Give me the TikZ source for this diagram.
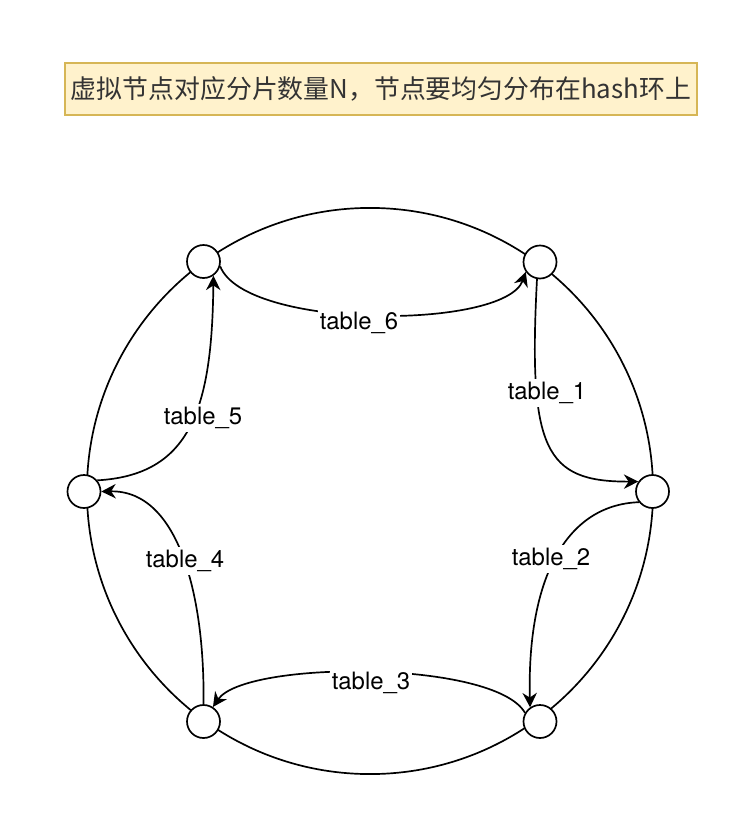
\documentclass[tikz,border=0pt]{standalone}
\usepackage{fontspec}
\setmainfont{TeX Gyre Heros}
\newfontfamily\cjkfont{Noto Sans CJK SC}
\usetikzlibrary{arrows.meta}
\definecolor{notefill}{HTML}{FFF2CC}
\definecolor{notedraw}{HTML}{D6B656}
\definecolor{notetext}{HTML}{333333}

\begin{document}
\begin{tikzpicture}[x=0.025cm,y=-0.025cm,>={Stealth[length=3.6mm,width=3.6mm]},line width=1.2pt,
  vnode/.style={circle,draw,fill=white,minimum size=0.825cm,inner sep=0pt},
  lbl/.style={fill=white,inner xsep=1pt,inner ysep=2pt,font=\fontsize{17}{20}\selectfont},
  titlebox/.style={draw=notedraw,fill=notefill,minimum width=15.8cm,minimum height=1.3cm,
    text=notetext,font=\cjkfont\fontsize{18.4}{22}\selectfont}]
\useasboundingbox (0,0) rectangle (752,828);
\node[titlebox] (title) at (381,89) {虚拟节点对应分片数量N，节点要均匀分布在hash环上};
% hash ring
\draw (370,491) circle[radius=7.075cm];
\node[vnode] (v1) at (540,262) {};
\node[vnode] (v2) at (652.5,491.5) {};
\node[vnode] (v3) at (540,721.5) {};
\node[vnode] (v4) at (203.5,721.5) {};
\node[vnode] (v5) at (84,491.5) {};
\node[vnode] (v6) at (203.5,261.5) {};
% shards between neighbours
\draw[->] (v1.-100) .. controls (528,450) and (545,482) .. (v2.145);
\draw[->] (v2.218) .. controls (565,505) and (527,580) .. (v3.125);
\draw[->] (v3.150) .. controls (495,660) and (245,660) .. (v4.57);
\draw[->] (v4.90) .. controls (205,600) and (180,490) .. (v5.east);
\draw[->] (v5.40) .. controls (190,475) and (212,410) .. (v6.-55);
\draw[->] (v6.-16) .. controls (245,330) and (505,330) .. (v1.-145);
\node[lbl] (t1) at (547,393) {table\_1};
\node[lbl] (t2) at (551,559) {table\_2};
\node[lbl] (t3) at (371,683) {table\_3};
\node[lbl] (t4) at (185,561) {table\_4};
\node[lbl] (t5) at (203,418) {table\_5};
\node[lbl] (t6) at (359,323) {table\_6};
\end{tikzpicture}
\end{document}
